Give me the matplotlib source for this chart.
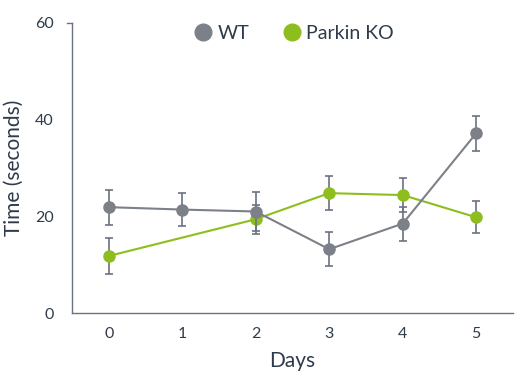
import numpy as np
import matplotlib.pyplot as plt
from matplotlib.lines import Line2D

days = [0, 1, 2, 3, 4, 5]
wt_time = [21.9, 21.4, 21.0, 13.2, 18.5, 37.2]
wt_err = [3.6, 3.4, 4.0, 3.5, 3.5, 3.6]
ko_days = [0, 2, 3, 4, 5]
ko_time = [11.8, 19.4, 24.8, 24.4, 19.8]
ko_err = [3.7, 3.0, 3.5, 3.6, 3.3]

gray = '#7b8089'
green = '#8dbe1e'
text_col = '#2e3b4a'
spine_col = '#6b7380'

plt.rcParams['font.family'] = ['Lato', 'DejaVu Sans']

fig = plt.figure(figsize=(5.24, 3.82), dpi=100)
ax = fig.add_axes([0.1374, 0.1806, 0.8416, 0.7592])

ax.errorbar(ko_days, ko_time, yerr=ko_err, color=green, marker='o', markersize=8,
            linewidth=1.5, ecolor=spine_col, elinewidth=1.2, capsize=3, capthick=1.2,
            zorder=2)
ax.errorbar(days, wt_time, yerr=wt_err, color=gray, marker='o', markersize=8,
            linewidth=1.5, ecolor=spine_col, elinewidth=1.2, capsize=3, capthick=1.2,
            zorder=3)

ax.set_xlim(-0.5, 5.5)
ax.set_ylim(0, 60)
ax.set_xticks(days)
ax.set_yticks([0, 20, 40, 60])
ax.tick_params(axis='both', length=0, labelsize=11.5, labelcolor=text_col)
ax.tick_params(axis='y', pad=13)
ax.tick_params(axis='x', pad=10)

# the single short tick at the top of the y axis
ax.plot([-0.012, 0], [60, 60], transform=ax.get_yaxis_transform(), color=spine_col,
        linewidth=1, clip_on=False)

for s in ['top', 'right']:
    ax.spines[s].set_visible(False)
for s in ['left', 'bottom']:
    ax.spines[s].set_color(spine_col)
    ax.spines[s].set_linewidth(1)

ax.set_xlabel('Days', fontsize=15, color=text_col, labelpad=7)
ax.set_ylabel('Time (seconds)', fontsize=15, color=text_col, labelpad=8)

handles = [Line2D([], [], marker='o', color=gray, linestyle='none', markersize=12),
           Line2D([], [], marker='o', color=green, linestyle='none', markersize=12)]
leg = ax.legend(handles, ['WT', 'Parkin KO'], loc='upper center', bbox_to_anchor=(0.5, 1.055),
                ncol=2, frameon=False, fontsize=14, handletextpad=0.15,
                columnspacing=1.6, handlelength=1.2)
for t in leg.get_texts():
    t.set_color(text_col)

fig.savefig('out.png', dpi=100)
